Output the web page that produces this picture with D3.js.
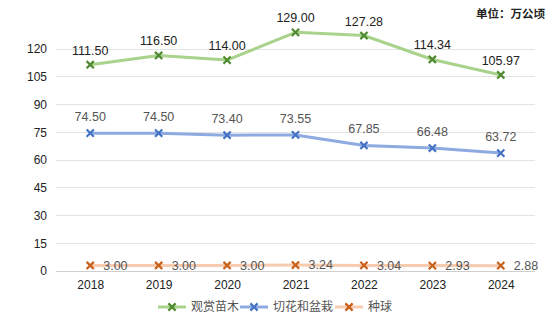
<!DOCTYPE html>
<html><head><meta charset="utf-8">
<script src="https://cdn.jsdelivr.net/npm/d3@7"></script>
<style>body{margin:0;background:#fff}svg{display:block}text{font-family:"Helvetica Neue",Arial,"Liberation Sans","Noto Sans CJK SC",sans-serif}</style>
</head><body><svg id="c" width="552" height="321"></svg>
<script>
const years = ["2018","2019","2020","2021","2022","2023","2024"];
const seriesNames = ["观赏苗木","切花和盆栽","种球"];
const nursery = [111.50,116.50,114.00,129.00,127.28,114.34,105.97];
const cutFlower = [74.50,74.50,73.40,73.55,67.85,66.48,63.72];
const bulbs = [3.00,3.00,3.00,3.24,3.04,2.93,2.88];
const yTicks = [0,15,30,45,60,75,90,105,120];
const unitLabel = "单位：万公顷";

const series = [
  {name:seriesNames[0], values:nursery, line:"#a9d38c", mark:"#4e8a2f", lab:"above", labColor:"#222"},
  {name:seriesNames[1], values:cutFlower, line:"#8eaae0", mark:"#4472c4", lab:"above", labColor:"#555"},
  {name:seriesNames[2], values:bulbs, line:"#f6cbb0", mark:"#c9601a", lab:"right", labColor:"#555"}
];

const svg = d3.select("#c");
const L=56, R=535, T=49, B=271;
const x = d3.scalePoint().domain(years).range([L,R]).padding(0.5);
const y = d3.scaleLinear().domain([0,120]).range([B,T]);

// grid
svg.append("g").selectAll("line").data(yTicks).join("line")
  .attr("x1",L).attr("x2",R).attr("y1",d=>y(d)).attr("y2",d=>y(d))
  .attr("stroke",d=>d===0?"#cfcfcf":"#e3e3e3").attr("stroke-width",1).attr("shape-rendering","crispEdges");

// y axis
const ya = svg.append("g").attr("transform",`translate(${L},0)`).call(d3.axisLeft(y).tickValues(yTicks).tickSize(0).tickPadding(9));
ya.select(".domain").remove();
ya.selectAll("text").attr("font-size",12).attr("fill","#222").style("font-family",'"Helvetica Neue",Arial,"Liberation Sans",sans-serif');

// x axis
const xa = svg.append("g").attr("transform",`translate(0,${B})`).call(d3.axisBottom(x).tickSize(0).tickPadding(9));
xa.select(".domain").remove();
xa.selectAll("text").attr("font-size",12).attr("fill","#222");

function cross(g, cx, cy, color){
  const s=3.6;
  g.append("path").attr("d",`M${cx-s},${cy-s}L${cx+s},${cy+s}M${cx-s},${cy+s}L${cx+s},${cy-s}`)
    .attr("stroke",color).attr("stroke-width",2.2).attr("fill","none");
}

const line = d3.line().x((d,i)=>x(years[i])).y(d=>y(d));
series.forEach(s=>{
  const g = svg.append("g");
  g.append("path").attr("d",line(s.values)).attr("fill","none").attr("stroke",s.line).attr("stroke-width",3).attr("stroke-linejoin","round");
  s.values.forEach((v,i)=>cross(g,x(years[i]),y(v),s.mark));
  s.values.forEach((v,i)=>{
    const t = g.append("text").text(v.toFixed(2)).attr("font-size",12.5).attr("fill",s.labColor);
    if(s.lab==="above"){
      t.attr("x",x(years[i])).attr("y",y(v)-(s===series[0]?10:12)).attr("text-anchor","middle");
    } else {
      t.attr("x",x(years[i])+13).attr("y",y(v)).attr("dy","0.35em").attr("text-anchor","start");
    }
  });
});

// legend
const legX=[158,240,335];
const leg = svg.append("g");
series.forEach((s,i)=>{
  const lx=legX[i], ly=307;
  leg.append("line").attr("x1",lx).attr("x2",lx+28).attr("y1",ly).attr("y2",ly).attr("stroke",s.line).attr("stroke-width",3);
  cross(leg,lx+14,ly,s.mark);
  leg.append("text").text(s.name).attr("x",lx+33).attr("y",ly).attr("dy","0.35em").attr("font-size",12).attr("fill","#555")
    .style("font-family",'"Noto Sans CJK SC",sans-serif');
});

svg.append("text").text(unitLabel).attr("x",545).attr("y",14).attr("dy","0.35em").attr("text-anchor","end")
  .attr("font-size",11.5).attr("font-weight",600).attr("fill","#222").style("font-family",'"Noto Sans CJK SC",sans-serif');
</script></body></html>
